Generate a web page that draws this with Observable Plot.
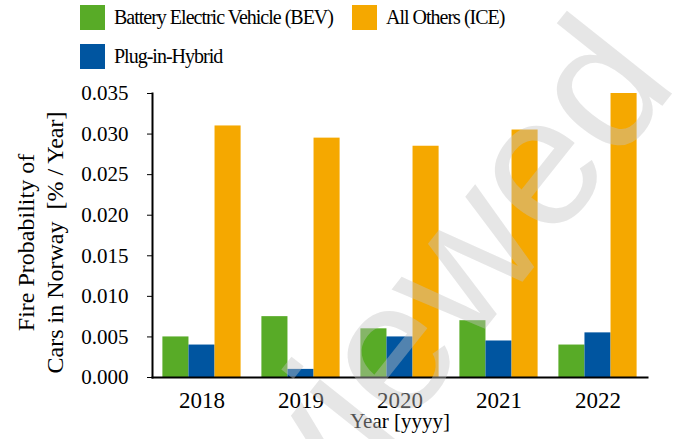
<!DOCTYPE html>
<html><head><meta charset="utf-8">
<script src="https://cdn.jsdelivr.net/npm/d3@7"></script>
<script src="https://cdn.jsdelivr.net/npm/@observablehq/plot@0.6"></script>
<style>
body{margin:0;background:#fff;}
#wrap{position:relative;width:699px;height:439px;overflow:hidden;font-family:"Liberation Serif","Times New Roman",serif;color:#000;}
#legend{height:80px;box-sizing:border-box;padding:5px 0 0 80px;display:grid;grid-template-columns:272px auto;grid-template-rows:39px 39px;grid-auto-flow:column;}
.item{display:flex;align-items:center;height:25px;font-size:20px;letter-spacing:-1px;white-space:nowrap;font-family:"Liberation Serif","Times New Roman",serif;}
.sw{width:25px;height:25px;margin-right:9px;flex:none;}
#wm{position:absolute;left:0;top:0;pointer-events:none;}
</style></head><body>
<div id="wrap"><div id="legend"></div><div id="chart"></div>
<svg id="wm" width="699" height="439"><text x="449" y="374" transform="rotate(-51.5 449 374)" text-anchor="middle" font-family="Liberation Sans, Arial, sans-serif" font-size="185" fill="#c4c4c4" fill-opacity="0.42">reviewed</text></svg>
</div>
<script>
const years = ["2018", "2019", "2020", "2021", "2022"];
const series = ["Battery Electric Vehicle (BEV)", "Plug-in-Hybrid", "All Others (ICE)"];
const bev  = [0.005, 0.0075, 0.006, 0.007, 0.004];
const phev = [0.004, 0.001, 0.005, 0.0045, 0.0055];
const ice  = [0.031, 0.0295, 0.0285, 0.0305, 0.035];
const colors = ["#58AB27", "#0055A0", "#F5A800"];
const yTicks = [0, 0.005, 0.010, 0.015, 0.020, 0.025, 0.030, 0.035];
const yLabel = "Fire Probability of\nCars in Norway\u00a0 [% / Year]";
const xLabel = "Year [yyyy]";

const values = [bev, phev, ice];
const data = years.flatMap((yr, i) => series.map((s, j) => ({year: yr, series: s, value: values[j][i]})));

// legend (column-wise: BEV, PHEV | ICE)
const leg = document.getElementById("legend");
series.forEach((s, j) => {
  const d = document.createElement("div");
  d.className = "item";
  d.innerHTML = `<span class="sw" style="background:${colors[j]}"></span><span>${s}</span>`;
  leg.appendChild(d);
});

const W = 699, ML = 152, MR = 52;
const padIn = 0.21, padOut = 0.105;
const step = (W - ML - MR) / (years.length - padIn + 2 * padOut);
const outerOffset = padOut * step; // distance from frame edge to first facet

const chart = Plot.plot({
  width: W, height: 359,
  marginTop: 13, marginBottom: 62, marginLeft: ML, marginRight: MR,
  style: {fontFamily: '"Liberation Serif", "Times New Roman", serif', fontSize: "20px", color: "#000", background: "transparent"},
  fx: {domain: years, paddingInner: padIn, paddingOuter: padOut, round: false, label: null},
  x: {domain: series, padding: 0, round: false, axis: null},
  y: {domain: [0, 0.035], label: null},
  color: {domain: series, range: colors},
  marks: [
    Plot.barY(data, {fx: "year", x: "series", y: "value", fill: "series"}),
    Plot.axisFx({anchor: "bottom", tickSize: 0, tickPadding: 14, fontSize: 23, label: null}),
    Plot.axisY({ticks: yTicks, tickFormat: d3.format(".3f"), tickSize: 5, tickPadding: 19, label: null, fontSize: 21, dx: -outerOffset}),
    Plot.frame({anchor: "left", facet: "super", stroke: "#000", strokeWidth: 2, insetLeft: -outerOffset}),
    Plot.frame({anchor: "bottom", facet: "super", stroke: "#000", strokeWidth: 2, insetLeft: -outerOffset, insetRight: -outerOffset}),
    Plot.text([xLabel], {frameAnchor: "bottom", dy: 50, fontSize: 21, facet: "super"}),
    Plot.text([yLabel], {frameAnchor: "left", rotate: -90, dx: -124, dy: 7, textAnchor: "middle", lineHeight: 1.25, fontSize: 24, facet: "super"})
  ]
});
document.getElementById("chart").appendChild(chart);
</script>
</body></html>
